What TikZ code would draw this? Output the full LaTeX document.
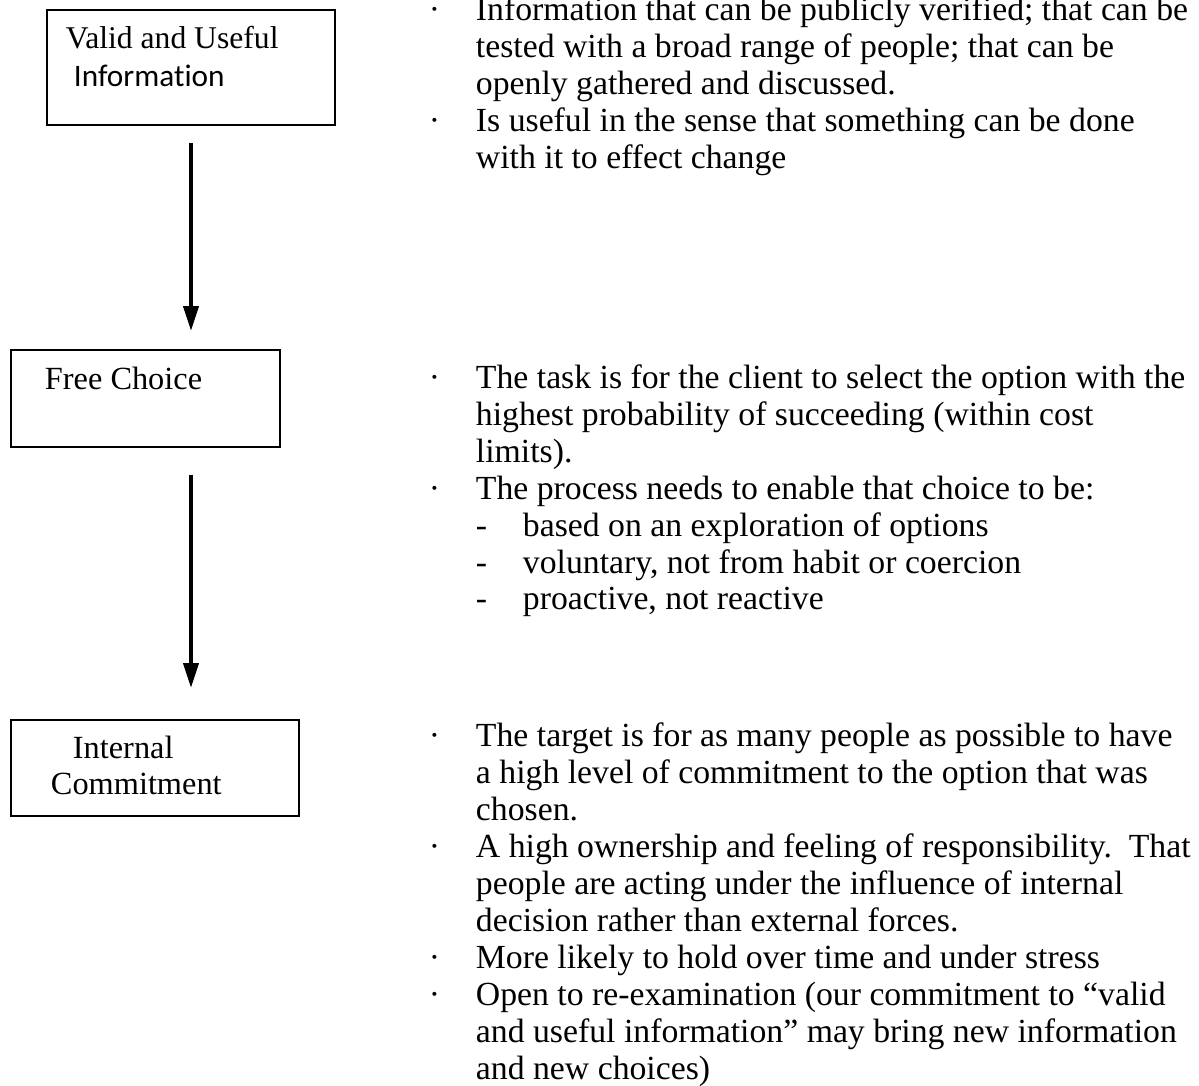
\documentclass[tikz,border=0pt]{standalone}
\usepackage{fontspec}
\setmainfont{Liberation Serif}
\newfontfamily\calfont[Ligatures=NoCommon]{Carlito}
\usetikzlibrary{arrows.meta, positioning}
\newcommand{\bul}{\llap{\makebox[0.94cm][l]{\textperiodcentered}}}
\newcommand{\dsh}{\makebox[0.94cm][l]{-}}
\tikzset{
  every picture/.style={line width=1.1pt},
  box/.style={draw=black, rectangle, inner sep=0pt, minimum width=#1},
  box/.default=5.76cm,
  label text/.style={font=\fontsize{18.4}{21}\selectfont, anchor=base west, inner sep=0pt, align=left},
  arrow/.style={-{Triangle[length=0.5cm, width=0.3cm]}, draw=black, line width=2.2pt},
  note/.style={font=\fontsize{19.2}{21}\selectfont, anchor=base west, inner sep=0pt, align=left},
}
\begin{document}
\begin{tikzpicture}
  \useasboundingbox (0,0) rectangle (23.98,-21.72);
  % left column
  \node[box=5.76cm, minimum height=2.30cm] (vui) at (3.82,-1.35) {};
  \node[box=5.38cm, minimum height=1.94cm] (fc)  at (2.91,-7.97) {};
  \node[box=5.76cm, minimum height=1.92cm] (ic)  at (3.10,-15.36) {};
  \node[label text, font=\fontsize{18}{19}\selectfont] (vuit) at (1.30,-0.98) {Valid and Useful};
  \node[label text, font=\calfont\fontsize{17.8}{19}\selectfont] (vuib) at (1.46,-1.74) {Information};
  \node[label text] (fct) at (0.88,-7.80) {Free Choice};
  % base anchor sits on the last line
  \node[label text, font=\fontsize{18.4}{21}\selectfont] (ict) at (1.00,-15.90) {\hspace*{0.44cm}Internal\\Commitment};
  \draw[arrow, shorten <=0.34cm, shorten >=0.36cm] (vui.south) -- (vui.south |- fc.north);
  \draw[arrow, shorten <=0.54cm, shorten >=0.62cm] (vui.south |- fc.south) -- (vui.south |- ic.north);
  % right column
  \node[note] (n1) at (9.50,-3.37) {\bul Information that can be publicly verified; that can be\\
    tested with a broad range of people; that can be\\
    openly gathered and discussed.\\
    \bul Is useful in the sense that something can be done\\
    with it to effect change};
  \node[note] (n2) at (9.50,-12.20) {\bul The task is for the client to select the option with the\\
    highest probability of succeeding (within cost\\
    limits).\\
    \bul The process needs to enable that choice to be:\\
    \dsh based on an exploration of options\\
    \dsh voluntary, not from habit or coercion\\
    \dsh proactive, not reactive};
  \node[note] (n3) at (9.50,-21.58) {\bul The target is for as many people as possible to have\\
    a high level of commitment to the option that was\\
    chosen.\\
    \bul A high ownership and feeling of responsibility.\ \ That\\
    people are acting under the influence of internal\\
    decision rather than external forces.\\
    \bul More likely to hold over time and under stress\\
    \bul Open to re-examination (our commitment to “valid\\
    and useful information” may bring new information\\
    and new choices)};
\end{tikzpicture}
\end{document}
